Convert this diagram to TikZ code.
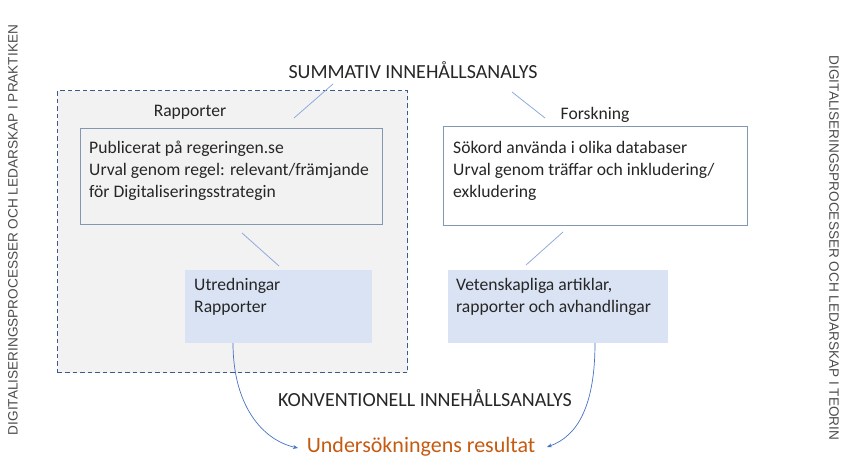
\documentclass[tikz,border=0pt]{standalone}
\usepackage{fontspec}
\setmainfont{Carlito}
\newfontfamily\sidefont{Liberation Sans}
\usetikzlibrary{arrows.meta}
\definecolor{bggray}{HTML}{F2F2F2}
\definecolor{dashblue}{HTML}{3B5A8C}
\definecolor{boxedge}{HTML}{8497B0}
\definecolor{lightblue}{HTML}{DAE3F3}
\definecolor{linkblue}{HTML}{8FAADC}
\definecolor{arrowblue}{HTML}{4472C4}
\definecolor{resorange}{HTML}{C55A11}
\tikzset{
  outerbox/.style={draw=dashblue, fill=bggray, dashed, line width=1.3pt, dash pattern=on 4.5pt off 3pt},
  rulebox/.style={draw=boxedge, line width=1pt, inner sep=0pt, anchor=north west},
  resbox/.style={fill=lightblue, inner sep=0pt, anchor=north west},
  bodytext/.style={font=\fontsize{17.6}{21.8}\selectfont, align=left, anchor=north west, inner sep=0pt, text=black!85},
  headtext/.style={font=\fontsize{20}{24}\selectfont, inner sep=0pt, text=black!85},
  labeltext/.style={font=\fontsize{17.6}{20}\selectfont, inner sep=0pt, text=black!85},
  sidetext/.style={font=\sidefont\fontsize{13.6}{15}\selectfont, inner sep=0pt, text=black!70},
  link/.style={draw=linkblue, line width=0.8pt},
  flow/.style={draw=arrowblue, line width=0.7pt, -{Stealth[length=5pt,width=4pt]}}
}
\begin{document}
\begin{tikzpicture}[x=1pt,y=-1pt]
\useasboundingbox (0,0) rectangle (845,457);
% side labels
\node[sidetext, rotate=90] (leftside) at (13,230) {DIGITALISERINGSPROCESSER OCH LEDARSKAP I PRAKTIKEN};
\node[sidetext, rotate=-90] (rightside) at (834,248) {DIGITALISERINGSPROCESSER OCH LEDARSKAP I TEORIN};
% outer dashed region
\node[outerbox, minimum width=350, minimum height=282, anchor=north west, inner sep=0pt] (outer) at (57,90) {};
% titles
\node[headtext] (summ) at (413,70) {SUMMATIV INNEHÅLLSANALYS};
\node[headtext] (konv) at (425,398) {KONVENTIONELL INNEHÅLLSANALYS};
\node[font=\fontsize{22}{26}\selectfont, text=resorange, inner sep=0pt, anchor=base] (res) at (421,452.5) {Undersökningens resultat};
% labels
\node[labeltext] (rapp) at (190,112) {Rapporter};
\node[labeltext] (forsk) at (595,115) {Forskning};
% boxes
\node[rulebox, fill=bggray, minimum width=302, minimum height=96] (pub) at (80,128) {};
\node[bodytext] (pubtext) at (89,141) {Publicerat på regeringen.se\\Urval genom regel: relevant/främjande\\för Digitaliseringsstrategin};
\node[rulebox, fill=white, minimum width=304, minimum height=99] (sok) at (443,126) {};
\node[bodytext] (soktext) at (453,141) {Sökord använda i olika databaser\\Urval genom träffar och inkludering/\\exkludering};
\node[resbox, minimum width=187, minimum height=73] (utr) at (185,270) {};
\node[bodytext] (utrtext) at (194,278) {Utredningar\\Rapporter};
\node[resbox, minimum width=220, minimum height=73] (vet) at (448,270) {};
\node[bodytext] (vettext) at (456,278) {Vetenskapliga artiklar,\\rapporter och avhandlingar};
% link lines
\coordinate (s1) at (333,84);
\coordinate (r1) at (294,118);
\coordinate (s2) at (512,92);
\coordinate (f1) at (545,118);
\coordinate (p1) at (242,233);
\coordinate (u1) at (279,266);
\coordinate (k1) at (563,232);
\coordinate (v1) at (526,265);
\draw[link] (s1) -- (r1);
\draw[link] (s2) -- (f1);
\draw[link] (p1) -- (u1);
\draw[link] (k1) -- (v1);
% flows
\coordinate (utrout) at (233,343);
\coordinate (vetout) at (595,343);
\coordinate (resleft) at (298,448);
\coordinate (resright) at (547,447);
\draw[flow] (utrout) .. controls (233,405) and (262,440) .. (resleft);
\draw[flow] (vetout) .. controls (595,405) and (578,436) .. (resright);
\end{tikzpicture}
\end{document}
